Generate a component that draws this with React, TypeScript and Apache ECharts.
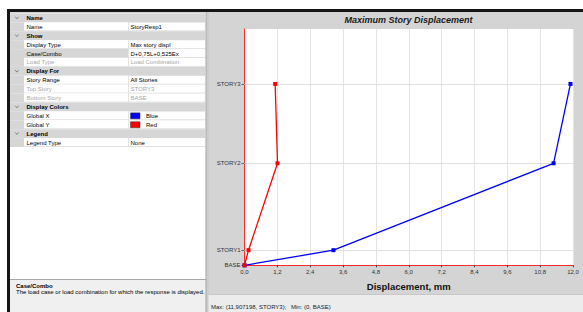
import React, { useEffect, useRef } from 'react';
import * as echarts from 'echarts';

// ---- chart data ----
const storyNames = ['BASE', 'STORY1', 'STORY2', 'STORY3'];
const storyElevations = [0, 0.6, 4.05, 7.2];
const globalX = [0, 3.25, 11.29, 11.907198];
const globalY = [0, 0.146, 1.206, 1.12];
const chartTitle = 'Maximum Story Displacement';
const xAxisTitle = 'Displacement, mm';
const statusMax = 'Max: (11,907198, STORY3);';
const statusMin = 'Min: (0, BASE)';

// ---- property grid texts ----
const propKinds = ['cat', 'prop', 'cat', 'prop', 'prop', 'prop', 'cat', 'prop', 'prop', 'prop', 'cat', 'prop', 'prop', 'cat', 'prop'];
const propNames = ['Name', 'Name', 'Show', 'Display Type', 'Case/Combo', 'Load Type', 'Display For', 'Story Range', 'Top Story', 'Bottom Story', 'Display Colors', 'Global X', 'Global Y', 'Legend', 'Legend Type'];
const propValues = ['', 'StoryResp1', '', 'Max story displ', 'D+0,75L+0,525Ex', 'Load Combination', '', 'All Stories', 'STORY3', 'BASE', '', 'Blue', 'Red', '', 'None'];
const disabledRows = ['Load Type', 'Top Story', 'Bottom Story'];
const selectedRow = 'Case/Combo';
const swatchNames = ['Global X', 'Global Y'];
const swatchColors = ['#0000ff', '#ff0000'];
const descTitle = 'Case/Combo';
const descText = 'The load case or load combination for which the response is displayed.';

const FONT = '"Liberation Sans", Arial, sans-serif';

function buildGraphic() {
  const g: any[] = [];
  const rect = (x: number, y: number, w: number, h: number, fill: string) =>
    g.push({ type: 'rect', silent: true, shape: { x, y, width: w, height: h }, style: { fill } });
  const line = (x1: number, y1: number, x2: number, y2: number, stroke: string, lw = 1) =>
    g.push({ type: 'line', silent: true, shape: { x1, y1, x2, y2 }, style: { stroke, lineWidth: lw } });
  const text = (x: number, y: number, t: string, o: any = {}) =>
    g.push({
      type: 'text', silent: true, x, y,
      style: { text: t, fontSize: 6, fontFamily: FONT, fill: '#000', align: 'left', verticalAlign: 'middle', ...o },
    });

  // window frame
  rect(0, 0, 583, 9, '#ffffff');
  rect(0, 9, 7, 303, '#ffffff');
  rect(10, 12, 196, 300, '#ffffff');
  rect(7, 9, 576, 3, '#151515');
  rect(7, 9, 3, 303, '#151515');

  // property grid
  const rowTop = 13.5;
  const rowH = 8.9;
  rect(10, 12, 195, 1.5, '#d6d6d6');
  propKinds.forEach((kind, i) => {
    const y0 = rowTop + i * rowH;
    const cy = y0 + rowH / 2;
    const name = propNames[i];
    if (kind === 'cat') {
      rect(10, y0, 195, rowH, '#d6d6d6');
      g.push({
        type: 'polyline', silent: true,
        shape: { points: [[15.2, cy - 1.2], [16.9, cy + 0.8], [18.6, cy - 1.2]] },
        style: { stroke: '#6a6a6a', lineWidth: 0.8, fill: 'none' },
      });
      text(26.5, cy, name, { fontWeight: 'bold' });
    } else {
      rect(10, y0, 14, rowH, '#d6d6d6');
      rect(24, y0, 104, rowH, name === selectedRow ? '#d6d6d6' : '#ffffff');
      line(24, y0 + rowH - 0.5, 205, y0 + rowH - 0.5, '#e2e2e2');
      line(128.5, y0, 128.5, y0 + rowH, '#e2e2e2');
      const dis = disabledRows.indexOf(name) >= 0;
      const col = dis ? '#a8a8a8' : '#000';
      text(26.5, cy, name, { fill: col });
      const si = swatchNames.indexOf(name);
      if (si >= 0) {
        g.push({
          type: 'rect', silent: true,
          shape: { x: 130.5, y: cy - 3, width: 9.5, height: 6 },
          style: { fill: swatchColors[si], stroke: '#333', lineWidth: 0.5 },
        });
        text(146, cy, propValues[i], { fill: col });
      } else {
        text(130.5, cy, propValues[i], { fill: col });
      }
    }
  });

  // description panel
  rect(10, 279, 196, 33, '#f0f0f0');
  line(10, 279.5, 206, 279.5, '#a8a8a8');
  text(16, 285.5, descTitle, { fontWeight: 'bold' });
  text(16, 292, descText);

  // splitter
  line(206, 12, 206, 312, '#a0a0a0');
  line(208, 12, 208, 312, '#c4c4c4');

  // status bar
  rect(208.5, 294, 374.5, 18, '#ececec');
  line(208.5, 294.5, 583, 294.5, '#c8c8c8');
  text(211, 307, statusMax, { fill: '#222' });
  text(291, 307, statusMin, { fill: '#222' });

  // chart title
  text(408.5, 20, chartTitle, {
    fontSize: 9, fontWeight: 'bold', fontStyle: 'italic', align: 'center', fill: '#1a1a1a',
  });
  return g;
}

export default function App() {
  const ref = useRef<HTMLDivElement>(null);
  useEffect(() => {
    if (!ref.current) return;
    const chart = echarts.init(ref.current, null, { renderer: 'svg' });
    const nameFor = (v: number) => {
      const i = storyElevations.findIndex((e) => Math.abs(e - v) < 1e-6);
      return i >= 0 ? storyNames[i] : '';
    };
    chart.setOption({
      animation: false,
      backgroundColor: '#d4d4d4',
      textStyle: { fontFamily: FONT },
      grid: {
        left: 244.5, top: 29, width: 328.5, height: 236.3,
        show: true, backgroundColor: '#ffffff', borderWidth: 0,
      },
      xAxis: {
        type: 'value', min: 0, max: 12, interval: 1.2,
        name: xAxisTitle, nameLocation: 'middle', nameGap: 16,
        nameTextStyle: { fontSize: 9.5, fontWeight: 'bold', color: '#111', fontFamily: FONT },
        axisLine: { show: true, lineStyle: { color: '#ff2a2a', width: 1 } },
        axisTick: { show: true, length: 2, lineStyle: { color: '#444' } },
        axisLabel: {
          fontSize: 6, color: '#333', margin: 4, fontFamily: FONT,
          formatter: (v: number) => v.toFixed(1).replace('.', ','),
        },
        splitLine: { show: true, lineStyle: { color: '#e4e4e4', width: 1 } },
      },
      yAxis: {
        type: 'value', min: 0, max: 9.38,
        axisLine: { show: true, lineStyle: { color: '#ff2a2a', width: 1 } },
        axisTick: { show: true, length: 3, customValues: storyElevations, lineStyle: { color: '#666' } },
        axisLabel: {
          fontSize: 6, color: '#333', margin: 4, fontFamily: FONT,
          customValues: storyElevations,
          formatter: (v: number) => nameFor(v),
        },
        splitLine: { show: false },
      },
      graphic: buildGraphic(),
      series: [
        {
          type: 'line', data: [], silent: true, z: 1,
          markLine: {
            silent: true, symbol: 'none', label: { show: false }, z: 1,
            lineStyle: { color: '#e0e0e0', type: 'solid', width: 1 },
            data: storyElevations.slice(1).map((e) => ({ yAxis: e })),
          },
        },
        {
          name: 'Global X', type: 'line', z: 10,
          data: globalX.map((v, i) => [v, storyElevations[i]]),
          symbol: 'rect', symbolSize: 4, showSymbol: true,
          lineStyle: { color: '#0000ff', width: 1.3 },
          itemStyle: { color: '#0000ff', borderColor: '#0000ff', borderWidth: 0 },
        },
        {
          name: 'Global Y', type: 'line', z: 11,
          data: globalY.map((v, i) => [v, storyElevations[i]]),
          symbol: 'rect', symbolSize: 4, showSymbol: true,
          lineStyle: { color: '#ff0000', width: 1.3 },
          itemStyle: { color: '#ff0000', borderColor: '#ff0000', borderWidth: 0 },
        },
      ],
    });
    return () => chart.dispose();
  }, []);
  return (
    <div
      ref={ref}
      style={{ position: 'fixed', left: 0, top: 0, width: 583, height: 312 }}
    />
  );
}
